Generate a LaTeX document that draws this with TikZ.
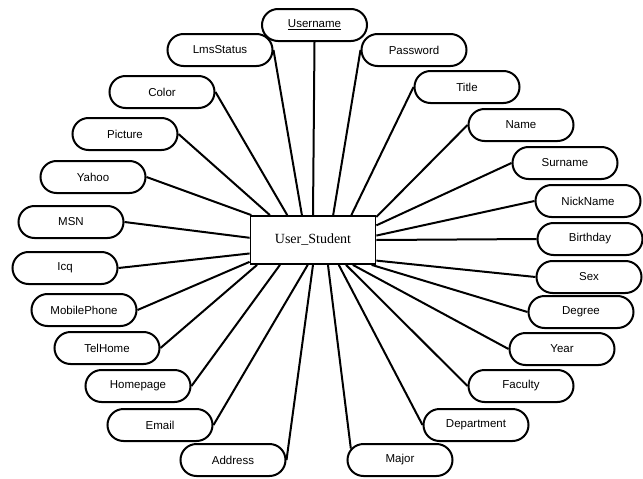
\documentclass[tikz,border=0pt]{standalone}
\usepackage{fontspec}
\setmainfont{Liberation Sans}
\newfontfamily\entityfont{Liberation Serif}
\usetikzlibrary{shapes.misc}
\begin{document}
\begin{tikzpicture}[x=1pt,y=-1pt,
  attr/.style={rounded rectangle, draw, line width=2pt, fill=white,
    minimum width=105pt, minimum height=32pt, inner sep=0pt,
    font=\fontsize{11.5}{13}\selectfont},
  entity/.style={rectangle, draw, line width=1.8pt, fill=white,
    minimum width=125pt, minimum height=48pt, inner sep=0pt,
    font=\entityfont\fontsize{14}{16}\selectfont},
  link/.style={line width=2pt}]
\useasboundingbox (0,0) rectangle (643,479);

% entity
\node[entity] (user) at (313,240) {User\_Student};

% attributes, left side
\node[attr] (username) at (314.5,25) {\underline{Username}};
\node[attr] (lmsstatus) at (220,50) {LmsStatus};
\node[attr] (color) at (162,92) {Color};
\node[attr] (picture) at (125,134) {Picture};
\node[attr] (yahoo) at (93,177) {Yahoo};
\node[attr] (msn) at (71,222) {MSN};
\node[attr] (icq) at (65,268) {Icq};
\node[attr] (mobile) at (84,310) {MobilePhone};
\node[attr] (telhome) at (107,348) {TelHome};
\node[attr] (homepage) at (138,386) {Homepage};
\node[attr] (email) at (160,425) {Email};
\node[attr] (address) at (233,460) {Address};

% attributes, right side
\node[attr] (password) at (414,50) {Password};
\node[attr] (title) at (467,87) {Title};
\node[attr] (name) at (521,125) {Name};
\node[attr] (surname) at (565,163) {Surname};
\node[attr] (nickname) at (588,201) {NickName};
\node[attr] (birthday) at (590,239) {Birthday};
\node[attr] (sex) at (589,277) {Sex};
\node[attr] (degree) at (581,312) {Degree};
\node[attr] (year) at (562,349) {Year};
\node[attr] (faculty) at (521,386) {Faculty};
\node[attr] (department) at (476,425) {Department};
\node[attr] (major) at (400,460) {Major};

% connectors
\draw[link] (username.south) -- (user.north);
\draw[link] (lmsstatus.east) -- (user.114);
\draw[link] (color.east) -- (user.136);
\draw[link] (picture.east) -- (user.150);
\draw[link] (yahoo.east) -- (user.158);
\draw[link] (msn.east) -- (user.178);
\draw[link] (icq.east) -- (user.192);
\draw[link] (mobile.east) -- (user.199);
\draw[link] (telhome.east) -- (user.204);
\draw[link] (homepage.east) -- (user.217);
\draw[link] (email.east) -- (user.258);
\draw[link] (address.east) -- (user.270);
\draw[link] (password.west) -- (user.51);
\draw[link] (title.west) -- (user.33);
\draw[link] (name.west) -- (user.20);
\draw[link] (surname.west) -- (user.13);
\draw[link] (nickname.west) -- (user.4);
\draw[link] (birthday.west) -- (user.0);
\draw[link] (sex.west) -- (user.342);
\draw[link] (degree.west) -- (user.337);
\draw[link] (year.west) -- (user.328);
\draw[link] (faculty.west) -- (user.323);
\draw[link] (department.west) -- (user.316);
\draw[link] (major.167) -- (user.301);
\end{tikzpicture}
\end{document}
